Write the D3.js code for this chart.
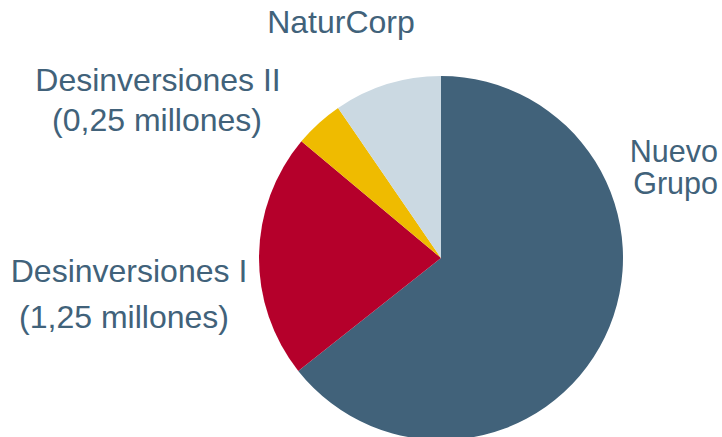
<!DOCTYPE html>
<html lang="es">
<head>
<meta charset="utf-8">
<title>Pie chart</title>
<script src="https://d3js.org/d3.v7.min.js"></script>
<style>
    body { margin: 0; background: #fff; }
    text { font-family: "Liberation Sans", Arial, sans-serif; fill: #41627a; }
</style>
</head>
<body>
<svg id="chart" width="722" height="437"></svg>
<script>
// data
var categories = ["Nuevo Grupo", "Desinversiones I", "Desinversiones II", "NaturCorp"];
var values = [3.7, 1.25, 0.25, 0.55];   // millones
var colors = ["#41627a", "#b5002b", "#efbb00", "#cbd9e2"];

// label lines, placed by hand like in the original slide
var labelLines = [
    {text: "Nuevo",               x: 718, y: 162, anchor: "end",    size: 30.5},
    {text: "Grupo",               x: 718, y: 194, anchor: "end",    size: 30.5},
    {text: "Desinversiones I",    x: 129, y: 282, anchor: "middle", size: 32},
    {text: "(1,25 millones)",     x: 124, y: 328, anchor: "middle", size: 32},
    {text: "Desinversiones II",   x: 158, y: 91,  anchor: "middle", size: 32},
    {text: "(0,25 millones)",     x: 157, y: 131, anchor: "middle", size: 32},
    {text: "NaturCorp",           x: 341, y: 33,  anchor: "middle", size: 32}
];

var svg = d3.select("#chart");
var cx = 441, cy = 258, radius = 182;

var pie = d3.pie().sort(null).value(function(d) { return d; });
var arc = d3.arc().innerRadius(0).outerRadius(radius);
var color = d3.scaleOrdinal().domain(categories).range(colors);

var g = svg.append("g")
    .attr("transform", "translate(" + cx + "," + cy + ")");

g.selectAll("path")
    .data(pie(values))
    .enter()
    .append("path")
    .attr("d", arc)
    .attr("fill", function(d, i) { return color(categories[i]); });

svg.selectAll("text.label")
    .data(labelLines)
    .enter()
    .append("text")
    .attr("class", "label")
    .attr("x", function(d) { return d.x; })
    .attr("y", function(d) { return d.y; })
    .attr("text-anchor", function(d) { return d.anchor; })
    .attr("font-size", function(d) { return d.size; })
    .text(function(d) { return d.text; });
</script>
</body>
</html>
